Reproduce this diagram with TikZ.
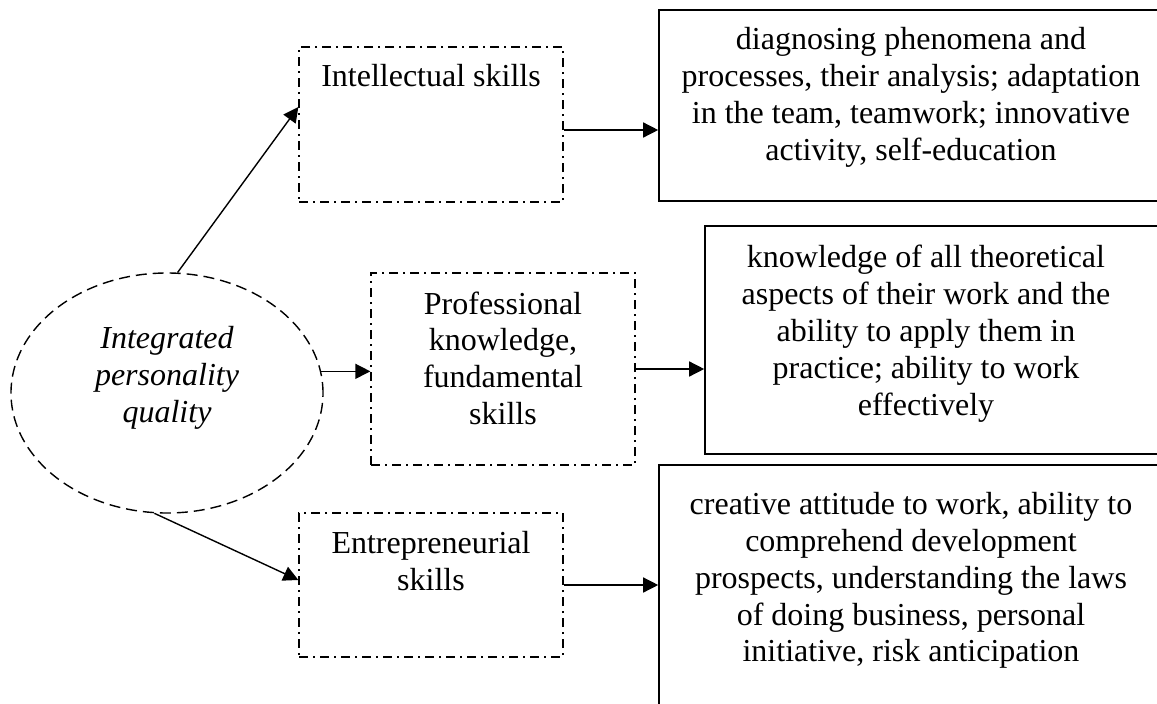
\documentclass[tikz,border=0pt]{standalone}
\usepackage{fontspec}
\setmainfont{Liberation Serif}
\usepackage{tikz}
\usetikzlibrary{shapes.geometric,arrows.meta,positioning}

\begin{document}
\begin{tikzpicture}[
    x=1pt, y=-1pt,
    skillbox/.style={rectangle, draw, line width=1.3pt,
        dash pattern=on 9pt off 5pt on 2pt off 5pt, inner sep=0pt},
    resbox/.style={rectangle, draw, line width=1.6pt, inner sep=0pt},
    txt/.style={inner sep=0pt, align=center,
        font=\fontsize{32}{36.8}\selectfont},
    >={Triangle[length=15pt,width=15pt]}
]
\useasboundingbox (0,0) rectangle (1157,704);

\node[ellipse, draw, line width=1.4pt, dash pattern=on 11pt off 6pt,
    minimum width=312pt, minimum height=240pt, inner sep=0pt] (quality) at (167,393) {};
\node[txt, font=\fontsize{32}{36.8}\selectfont\itshape] (qualityT) at (167,378)
    {Integrated\\personality\\quality};

\node[skillbox, minimum width=264pt, minimum height=155pt] (intel) at (431,124.5) {};
\node[skillbox, minimum width=264pt, minimum height=192pt] (prof) at (503,369) {};
\node[skillbox, minimum width=264pt, minimum height=144pt] (entre) at (431,585) {};

\node[txt, below=18pt of intel.north] (intelT) {Intellectual skills};
\node[txt, below=19pt of prof.north] (profT) {Professional\\knowledge,\\fundamental\\skills};
\node[txt, below=19pt of entre.north] (entreT) {Entrepreneurial\\skills};

\node[resbox, minimum width=504pt, minimum height=191pt] (diag) at (911,105.5) {};
\node[resbox, minimum width=458pt, minimum height=228pt] (know) at (934,340) {};
\node[resbox, minimum width=504pt, minimum height=260pt] (create) at (911,595) {};

\node[txt, below=18pt of diag.north] (diagT)
    {diagnosing phenomena and\\processes, their analysis; adaptation\\in the team, teamwork; innovative\\activity, self-education};
\node[txt, below=20pt of know.north, xshift=-8pt] (knowT)
    {knowledge of all theoretical\\aspects of their work and the\\ability to apply them in\\practice; ability to work\\effectively};
\node[txt, below=28pt of create.north] (createT)
    {creative attitude to work, ability to\\comprehend development\\prospects, understanding the laws\\of doing business, personal\\initiative, risk anticipation};

\draw[->, line width=1.4pt] (quality.85) -- ([yshift=17.5pt]intel.west);
\draw[->, line width=1.4pt] (quality.8.5) -- (quality.8.5 -| prof.west);
\draw[->, line width=1.4pt] (quality.264) -- ([yshift=5pt]entre.west);

\draw[->, line width=1.4pt] ([yshift=-5.5pt]intel.east) -- ([yshift=-5.5pt]intel.east -| diag.west);
\draw[->, line width=1.4pt] (prof.east) -- (prof.east -| know.west);
\draw[->, line width=1.4pt] (entre.east) -- (entre.east -| create.west);
\end{tikzpicture}
\end{document}
